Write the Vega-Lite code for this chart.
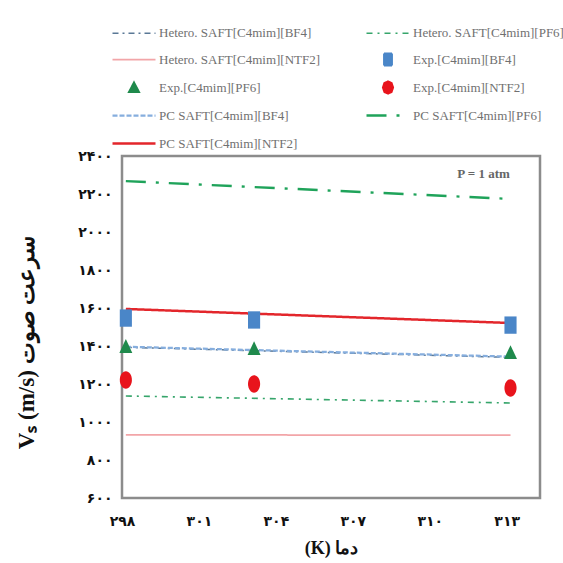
{
  "$schema": "https://vega.github.io/schema/vega-lite/v6.json",
  "width": 418,
  "height": 342,
  "autosize": "none",
  "padding": {"left": 122, "top": 156, "right": 23, "bottom": 65},
  "background": "white",
  "config": {
    "view": {"stroke": "#8c8c8c", "strokeWidth": 2.5},
    "axis": {"grid": false, "ticks": false, "domain": false, "labelOverlap": false, "labelFlush": false}
  },
  "data": {
    "values": [
      {"s": "Hetero. SAFT[C4mim][BF4]", "T": 298.15, "v": 1393, "k": "line"},
      {"s": "Hetero. SAFT[C4mim][BF4]", "T": 313.15, "v": 1340, "k": "line"},
      {"s": "Hetero. SAFT[C4mim][PF6]", "T": 298.15, "v": 1137, "k": "line"},
      {"s": "Hetero. SAFT[C4mim][PF6]", "T": 313.15, "v": 1100, "k": "line"},
      {"s": "Hetero. SAFT[C4mim][NTF2]", "T": 298.15, "v": 932, "k": "line"},
      {"s": "Hetero. SAFT[C4mim][NTF2]", "T": 313.15, "v": 931, "k": "line"},
      {"s": "Exp.[C4mim][BF4]", "T": 298.15, "v": 1547, "k": "point"},
      {"s": "Exp.[C4mim][BF4]", "T": 303.15, "v": 1537, "k": "point"},
      {"s": "Exp.[C4mim][BF4]", "T": 313.15, "v": 1510, "k": "point"},
      {"s": "Exp.[C4mim][PF6]", "T": 298.15, "v": 1400, "k": "point"},
      {"s": "Exp.[C4mim][PF6]", "T": 303.15, "v": 1389, "k": "point"},
      {"s": "Exp.[C4mim][PF6]", "T": 313.15, "v": 1368, "k": "point"},
      {"s": "Exp.[C4mim][NTF2]", "T": 298.15, "v": 1221, "k": "point"},
      {"s": "Exp.[C4mim][NTF2]", "T": 303.15, "v": 1200, "k": "point"},
      {"s": "Exp.[C4mim][NTF2]", "T": 313.15, "v": 1179, "k": "point"},
      {"s": "PC SAFT[C4mim][BF4]", "T": 298.15, "v": 1396, "k": "line"},
      {"s": "PC SAFT[C4mim][BF4]", "T": 313.15, "v": 1344, "k": "line"},
      {"s": "PC SAFT[C4mim][PF6]", "T": 298.15, "v": 2268, "k": "line"},
      {"s": "PC SAFT[C4mim][PF6]", "T": 313.15, "v": 2174, "k": "line"},
      {"s": "PC SAFT[C4mim][NTF2]", "T": 298.15, "v": 1595, "k": "line"},
      {"s": "PC SAFT[C4mim][NTF2]", "T": 313.15, "v": 1521, "k": "line"},
      {"s": "note", "T": 312.1, "v": 2305, "k": "note", "t": "P = 1 atm"}
    ]
  },
  "encoding": {
    "x": {
      "field": "T", "type": "quantitative",
      "scale": {"domain": [298, 314.3], "nice": false, "zero": false},
      "axis": {
        "values": [298, 301, 304, 307, 310, 313],
        "labelExpr": "({'298':'۲۹۸','301':'۳۰۱','304':'۳۰۴','307':'۳۰۷','310':'۳۱۰','313':'۳۱۳'})[datum.value]",
        "labelOverlap": false, "labelFlush": false,
        "labelFont": "DejaVu Sans", "labelFontWeight": "bold", "labelFontSize": 14, "labelColor": "#111",
        "labelPadding": 16,
        "title": "(K) دما", "titleFont": "Liberation Serif", "titleFontSize": 18, "titleFontWeight": "bold", "titleColor": "#111",
        "titleBaseline": "middle", "titleY": 50
      }
    },
    "y": {
      "field": "v", "type": "quantitative",
      "scale": {"domain": [600, 2400], "nice": false, "zero": false},
      "axis": {
        "values": [600, 800, 1000, 1200, 1400, 1600, 1800, 2000, 2200, 2400],
        "labelExpr": "({'600':'۶۰۰','800':'۸۰۰','1000':'۱۰۰۰','1200':'۱۲۰۰','1400':'۱۴۰۰','1600':'۱۶۰۰','1800':'۱۸۰۰','2000':'۲۰۰۰','2200':'۲۲۰۰','2400':'۲۴۰۰'})[datum.value]",
        "labelOverlap": false, "labelFlush": false, "labelSeparation": 0,
        "labelFont": "DejaVu Sans", "labelFontWeight": "bold", "labelFontSize": 14, "labelColor": "#111",
        "labelPadding": 10,
        "title": "Vₛ (m/s) سرعت صوت", "titleFont": "Liberation Serif", "titleFontSize": 23, "titleFontWeight": "bold", "titleColor": "#111",
        "titleAlign": "center", "titleBaseline": "middle", "titleX": -96, "titleY": 186
      }
    }
  },
  "layer": [
    {
      "transform": [{"filter": "datum.k == 'line'"}],
      "mark": {"type": "line"},
      "encoding": {
        "color": {
          "field": "s", "type": "nominal",
          "scale": {
            "domain": ["Hetero. SAFT[C4mim][BF4]", "Hetero. SAFT[C4mim][PF6]", "Hetero. SAFT[C4mim][NTF2]", "Exp.[C4mim][BF4]", "Exp.[C4mim][PF6]", "Exp.[C4mim][NTF2]", "PC SAFT[C4mim][BF4]", "PC SAFT[C4mim][PF6]", "PC SAFT[C4mim][NTF2]"],
            "range": ["#5a7896", "#36a56b", "#f2a5a8", "#4a86c8", "#1f8a4c", "#e8141c", "#86aede", "#1fa35a", "#e3262b"]
          },
          "legend": {
            "title": null,
            "orient": "none", "legendX": -11, "legendY": -131,
            "direction": "horizontal",
            "columns": 2, "columnPadding": 40, "rowPadding": 7, "gridAlign": "all",
            "symbolSize": 100,
            "labelFont": "Liberation Serif", "labelFontSize": 13, "labelColor": "#707070",
            "labelOffset": 35, "labelLimit": 300,
            "encode": {
              "symbols": {
                "update": {
                  "shape": {"signal": "({'Exp.[C4mim][BF4]':'M2.5,-1.2H4.1V1.2H2.5Z','Exp.[C4mim][PF6]':'M3.3,-1L4.3,0.9H2.3Z','Exp.[C4mim][NTF2]':'M2.3,0L2.6,-0.9L3.3,-1.2L4,-0.9L4.3,0L4,0.9L3.3,1.2L2.6,0.9Z'})[datum.value] || 'M-1,0H7.6'"},
                  "size": {"value": 100},
                  "fill": {"signal": "indexof(datum.value,'Exp') == 0 ? scale('color', datum.value) : 'transparent'"},
                  "stroke": {"signal": "indexof(datum.value,'Exp') == 0 ? 'transparent' : scale('color', datum.value)"},
                  "strokeDash": {"signal": "scale('strokeDash', datum.value)"},
                  "strokeWidth": {"signal": "scale('strokeWidth', datum.value)"},
                  "opacity": {"value": 1}
                }
              }
            }
          }
        },
        "strokeDash": {
          "field": "s", "type": "nominal",
          "scale": {
            "domain": ["Hetero. SAFT[C4mim][BF4]", "Hetero. SAFT[C4mim][PF6]", "Hetero. SAFT[C4mim][NTF2]", "Exp.[C4mim][BF4]", "Exp.[C4mim][PF6]", "Exp.[C4mim][NTF2]", "PC SAFT[C4mim][BF4]", "PC SAFT[C4mim][PF6]", "PC SAFT[C4mim][NTF2]"],
            "range": [[6, 4, 2, 4], [6, 5, 2, 5], [1, 0], [1, 0], [1, 0], [1, 0], [5, 2], [20, 10, 3, 10], [1, 0]]
          },
          "legend": null
        },
        "strokeWidth": {
          "field": "s", "type": "nominal",
          "scale": {
            "domain": ["Hetero. SAFT[C4mim][BF4]", "Hetero. SAFT[C4mim][PF6]", "Hetero. SAFT[C4mim][NTF2]", "Exp.[C4mim][BF4]", "Exp.[C4mim][PF6]", "Exp.[C4mim][NTF2]", "PC SAFT[C4mim][BF4]", "PC SAFT[C4mim][PF6]", "PC SAFT[C4mim][NTF2]"],
            "range": [1.5, 2.5, 2, 1, 1, 1, 2.5, 3.5, 3.5]
          },
          "legend": null
        }
      }
    },
    {
      "transform": [{"filter": "datum.k == 'point'"}],
      "mark": {"type": "point", "filled": true, "opacity": 1, "size": 300},
      "encoding": {
        "color": {"field": "s", "type": "nominal"},
        "shape": {
          "field": "s", "type": "nominal",
          "scale": {
            "domain": ["Exp.[C4mim][BF4]", "Exp.[C4mim][PF6]", "Exp.[C4mim][NTF2]"],
            "range": ["M-0.7,-1H0.7V1H-0.7Z", "M0,-0.8L0.75,0.8H-0.75Z", "M-0.7,0A0.7,1 0 1,0 0.7,0A0.7,1 0 1,0 -0.7,0Z"]
          },
          "legend": null
        }
      }
    },
    {
      "transform": [{"filter": "datum.k == 'note'"}],
      "mark": {"type": "text", "font": "Liberation Serif", "fontSize": 13, "fontWeight": "bold", "color": "#666", "align": "center", "baseline": "middle"},
      "encoding": {
        "text": {"field": "t", "type": "nominal"}
      }
    }
  ]
}
